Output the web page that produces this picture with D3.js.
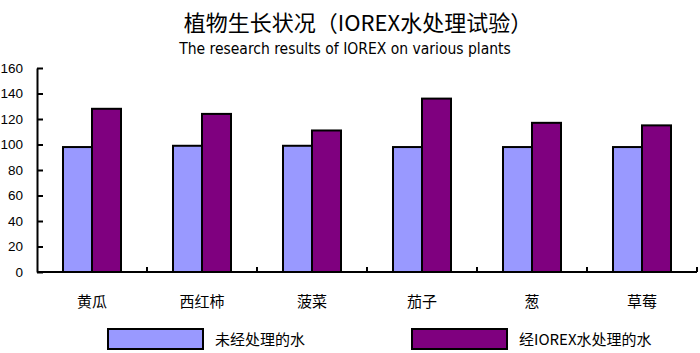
<!DOCTYPE html>
<html lang="zh">
<head>
	<meta charset="utf-8">
	<title>植物生长状况</title>
	<script src="https://d3js.org/d3.v7.min.js"></script>
	<style>
		body { margin: 0; background: #fff; }
		.cjk { font-family: "Noto Sans CJK SC", sans-serif; }
	</style>
</head>
<body>
	<div id="chart"></div>
	<script>
		// data
		const categories = ["黄瓜", "西红柿", "菠菜", "茄子", "葱", "草莓"];
		const untreated = [98, 99, 99, 98, 98, 98];
		const treated = [128, 124, 111, 136, 117, 115];
		const seriesNames = ["未经处理的水", "经IOREX水处理的水"];
		const yTicks = [0, 20, 40, 60, 80, 100, 120, 140, 160];

		const width = 700;
		const height = 353;
		const colors = ["#9999ff", "#7f007f"];

		var svg = d3.select("#chart")
			.append("svg")
			.attr("width", width)
			.attr("height", height);

		// titles
		svg.append("text")
			.attr("class", "cjk")
			.attr("x", 358).attr("y", 31)
			.attr("text-anchor", "middle")
			.style("font-size", "22px")
			.style("font-weight", "400")
			.text("植物生长状况（IOREX水处理试验）");
		svg.append("text")
			.attr("x", 345).attr("y", 54)
			.attr("text-anchor", "middle")
			.style("font-family", "'Liberation Sans Narrow', 'DejaVu Sans Condensed', sans-serif")
			.style("font-size", "15.5px")
			.text("The research results of IOREX on various plants");

		// scales
		let x = d3.scaleBand()
			.domain(categories)
			.range([37, 697]);
		let xInner = d3.scaleBand()
			.domain([0, 1])
			.range([26, x.bandwidth() - 26]);
		let y = d3.scaleLinear()
			.domain([0, 160])
			.range([272, 68]);

		// bars
		let groups = svg.selectAll("g.cat")
			.data(categories)
			.enter()
			.append("g")
			.attr("class", "cat")
			.attr("transform", function(d) { return "translate(" + x(d) + ",0)"; });
		groups.selectAll("rect")
			.data(function(d, i) { return [untreated[i], treated[i]]; })
			.enter()
			.append("rect")
			.attr("x", function(d, j) { return xInner(j); })
			.attr("y", function(d) { return y(d); })
			.attr("width", xInner.bandwidth())
			.attr("height", function(d) { return y(0) - y(d); })
			.attr("fill", function(d, j) { return colors[j]; })
			.attr("stroke", "#000")
			.attr("stroke-width", 2);

		// y axis
		let yAxis = d3.axisRight(y).tickValues(yTicks).tickSize(6).tickSizeOuter(0);
		let yG = svg.append("g")
			.attr("transform", "translate(37,0)")
			.call(yAxis);
		yG.select(".domain").attr("stroke-width", 2);
		yG.selectAll(".tick line").attr("stroke-width", 2);
		yG.selectAll(".tick text")
			.attr("x", -14)
			.attr("text-anchor", "end")
			.style("font-family", "'Liberation Sans', Arial, sans-serif")
			.style("font-size", "13.5px");

		// x axis: tick marks at category boundaries
		let boundaries = categories.map(function(d) { return x(d) + x.bandwidth(); });
		svg.append("line")
			.attr("x1", 37).attr("x2", 697)
			.attr("y1", y(0)).attr("y2", y(0))
			.attr("stroke", "#000").attr("stroke-width", 2);
		svg.selectAll("line.xtick")
			.data(boundaries)
			.enter()
			.append("line")
			.attr("class", "xtick")
			.attr("x1", function(d) { return d; })
			.attr("x2", function(d) { return d; })
			.attr("y1", y(0)).attr("y2", y(0) - 5)
			.attr("stroke", "#000").attr("stroke-width", 2);
		svg.selectAll("text.xlab")
			.data(categories)
			.enter()
			.append("text")
			.attr("class", "xlab cjk")
			.attr("x", function(d) { return x(d) + x.bandwidth() / 2; })
			.attr("y", 307)
			.attr("text-anchor", "middle")
			.style("font-size", "15px")
			.text(function(d) { return d; });

		// legend
		const legendX = [108, 412];
		let legend = svg.selectAll("g.legend")
			.data(seriesNames)
			.enter()
			.append("g")
			.attr("class", "legend")
			.attr("transform", function(d, i) { return "translate(" + legendX[i] + ",329)"; });
		legend.append("rect")
			.attr("width", 95).attr("height", 20)
			.attr("fill", function(d, i) { return colors[i]; })
			.attr("stroke", "#000").attr("stroke-width", 2);
		legend.append("text")
			.attr("class", "cjk")
			.attr("x", 107).attr("y", 16)
			.style("font-size", "15px")
			.text(function(d) { return d; });
	</script>
</body>
</html>
